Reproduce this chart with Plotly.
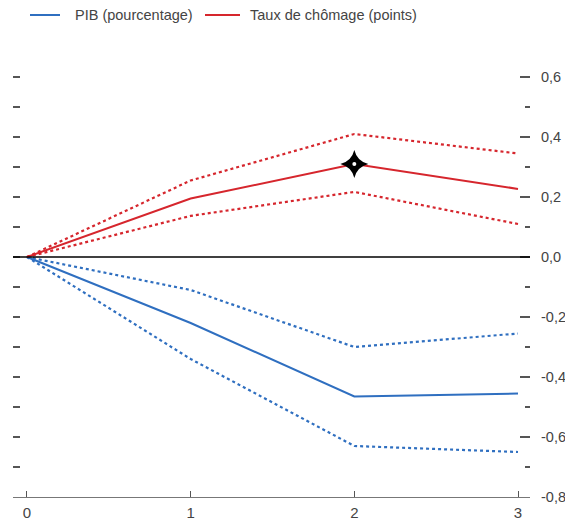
import plotly.graph_objects as go

horizons = [0, 1, 2, 3]
pib = [0, -0.22, -0.465, -0.455]
pib_upper = [0, -0.11, -0.30, -0.255]
pib_lower = [0, -0.34, -0.63, -0.65]
chomage = [0, 0.195, 0.31, 0.227]
chomage_upper = [0, 0.255, 0.41, 0.345]
chomage_lower = [0, 0.137, 0.217, 0.11]
legend_labels = ["PIB (pourcentage)", "Taux de chômage (points)"]
y_tick_values = [0.6, 0.4, 0.2, 0.0, -0.2, -0.4, -0.6, -0.8]
y_tick_labels = ["0,6", "0,4", "0,2", "0,0", "-0,2", "-0,4", "-0,6", "-0,8"]
marker_index = 2

BLUE = "#2f6fc0"
RED = "#d6262d"
FONT = "Liberation Sans, Arial, sans-serif"

fig = go.Figure()
fig.add_trace(go.Scatter(x=horizons, y=pib_upper, mode="lines", line=dict(color=BLUE, width=2.2, dash="dot"), showlegend=False))
fig.add_trace(go.Scatter(x=horizons, y=pib_lower, mode="lines", line=dict(color=BLUE, width=2.2, dash="dot"), showlegend=False))
fig.add_trace(go.Scatter(x=horizons, y=chomage_upper, mode="lines", line=dict(color=RED, width=2.2, dash="dot"), showlegend=False))
fig.add_trace(go.Scatter(x=horizons, y=chomage_lower, mode="lines", line=dict(color=RED, width=2.2, dash="dot"), showlegend=False))
fig.add_trace(go.Scatter(x=horizons, y=pib, mode="lines", name=legend_labels[0], line=dict(color=BLUE, width=2), showlegend=False))
fig.add_trace(go.Scatter(x=horizons, y=chomage, mode="lines", name=legend_labels[1], line=dict(color=RED, width=2), showlegend=False))
fig.add_trace(go.Scatter(x=[horizons[marker_index]], y=[chomage[marker_index]], mode="markers",
                         marker=dict(symbol="star-diamond", size=20, color="black"), showlegend=False, hoverinfo="skip"))
fig.add_trace(go.Scatter(x=[horizons[marker_index]], y=[chomage[marker_index]], mode="markers",
                         marker=dict(symbol="circle", size=4, color="white"), showlegend=False, hoverinfo="skip"))
# dummy trace for the right axis
fig.add_trace(go.Scatter(x=[None], y=[None], yaxis="y2", showlegend=False, hoverinfo="skip"))

fig.add_hline(y=0, line=dict(color="black", width=1.3))

# page body has an 8px margin, so the figure is sized/placed to compensate
W, H = 557, 513
ML, MR, MT, MB = 5, 35, 54, 24
pw, ph = W - ML - MR, H - MT - MB


def px(x):
    return (x - 8 - ML) / pw


def py(y):
    return (H - MB - (y - 8)) / ph


leg_y = py(15)
for (x0, x1, xt, color, label) in [(30, 60, 75, BLUE, legend_labels[0]),
                                   (205, 240, 250, RED, legend_labels[1])]:
    fig.add_shape(type="line", xref="paper", yref="paper", x0=px(x0), x1=px(x1), y0=leg_y, y1=leg_y,
                  line=dict(color=color, width=2))
    fig.add_annotation(xref="paper", yref="paper", x=px(xt), y=leg_y, text=label, showarrow=False,
                       xanchor="left", yanchor="middle", xshift=-2,
                       font=dict(family=FONT, size=14.5, color="#444"))

yr = [-0.8, 0.65]
fig.update_layout(
    width=W, height=H,
    margin=dict(l=ML, r=MR, t=MT, b=MB, autoexpand=False),
    paper_bgcolor="white", plot_bgcolor="white",
    font=dict(family=FONT, size=15, color="#444"),
    showlegend=False,
    xaxis=dict(range=[-0.0855, 3.0733], tickvals=horizons, ticks="inside", ticklen=6,
               tickcolor="#555", showline=True, linecolor="#777", linewidth=1.3,
               ticklabelstandoff=2,
               showgrid=False, zeroline=False, tickfont=dict(size=15, color="#444")),
    yaxis=dict(range=yr, dtick=0.1, tick0=0, ticks="inside", ticklen=7, tickwidth=1.5,
               tickcolor="#555", showticklabels=False, showgrid=False, zeroline=False,
               showline=False),
    yaxis2=dict(range=yr, overlaying="y", side="right", tickmode="array",
                tickvals=y_tick_values, ticktext=y_tick_labels, ticks="inside",
                ticklen=10, tickwidth=1.5, tickcolor="#555",
                ticklabelstandoff=10,
                minor=dict(dtick=0.1, tick0=0, ticklen=5, tickwidth=1.5, tickcolor="#555", ticks="inside"),
                showgrid=False, zeroline=False, showline=False,
                tickfont=dict(size=14.5, color="#444")),
)

fig.write_html("out.html")
